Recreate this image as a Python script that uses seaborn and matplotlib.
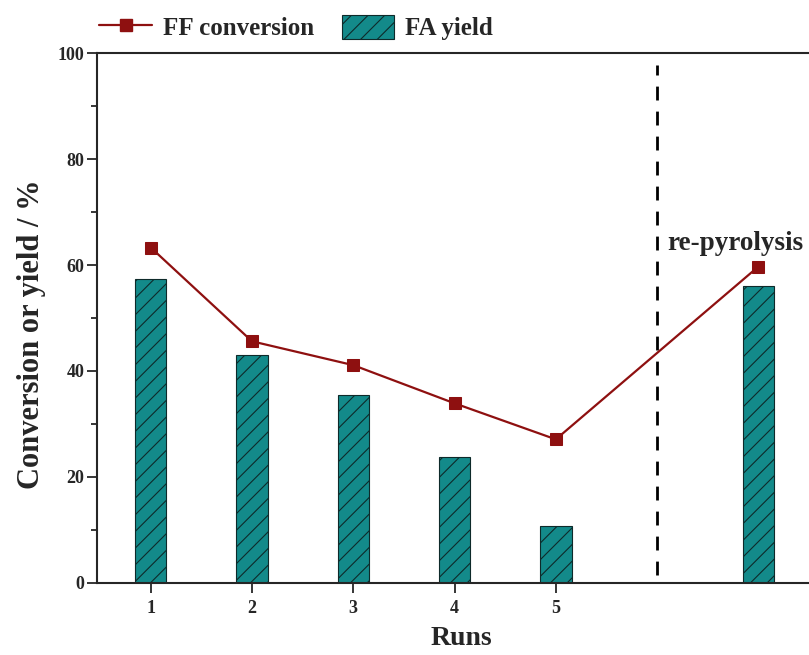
import pandas as pd
import matplotlib.pyplot as plt
import seaborn as sns
from matplotlib.lines import Line2D
from matplotlib.patches import Patch
from matplotlib.ticker import MultipleLocator

# Datos
runs = [1, 2, 3, 4, 5, 7]
run_labels = ['1', '2', '3', '4', '5']
ff_conversion = [63.3, 45.6, 41.1, 33.9, 27.1, 59.7]
fa_yield = [57.3, 43.0, 35.5, 23.8, 10.8, 56.0]

df = pd.DataFrame({'run': runs, 'ff': ff_conversion, 'fa': fa_yield})

sns.set_theme(style="ticks")
plt.rcParams['font.family'] = ['Liberation Serif', 'DejaVu Serif']
plt.rcParams['font.weight'] = 'bold'
plt.rcParams['hatch.linewidth'] = 0.8

teal = '#138a8a'
rojo = '#8e1010'

fig = plt.figure(figsize=(8.09, 6.55), dpi=100)
ax = fig.add_axes([0.12, 0.11, 0.90, 0.809])

sns.barplot(data=df, x='run', y='fa', native_scale=True, width=0.31,
            color=teal, saturation=1, edgecolor='#0e2a2a', linewidth=0.8,
            hatch='//', ax=ax, zorder=2)
sns.lineplot(data=df, x='run', y='ff', color=rojo, lw=1.6, marker='s',
             markersize=8.5, markeredgecolor=rojo, ax=ax, zorder=4)

# Línea divisoria de la re-pirólisis
ax.plot([6, 6], [1.5, 97.7], color='black', lw=2, ls=(0, (5, 4)), zorder=3)
ax.text(6.1, 64, 're-pyrolysis', fontsize=19.5, weight='bold', va='center')

ax.set_xlim(0.47, 7.66)
ax.set_ylim(0, 100)
ax.set_xticks(runs[:5])
ax.set_xticklabels(run_labels)
ax.yaxis.set_major_locator(MultipleLocator(20))
ax.yaxis.set_minor_locator(MultipleLocator(10))
ax.tick_params(axis='both', which='major', direction='out', length=7, width=1.3,
               labelsize=13)
ax.tick_params(axis='y', which='minor', direction='out', length=4, width=1.3)
ax.tick_params(axis='x', pad=5)
ax.tick_params(axis='y', pad=2)
for lbl in ax.get_xticklabels() + ax.get_yticklabels():
    lbl.set_fontweight('bold')

for lado in ['left', 'bottom', 'top']:
    ax.spines[lado].set_linewidth(1.5)
ax.spines['right'].set_visible(False)

ax.set_xlabel('Runs', fontsize=20, weight='bold', labelpad=7)
ax.set_ylabel('Conversion or yield / %', fontsize=22, weight='bold')
ax.yaxis.set_label_coords(-0.07, 0.47)

handles = [
    Line2D([0], [0], color=rojo, lw=1.6, marker='s', markersize=8.5),
    Patch(facecolor=teal, edgecolor='#0e2a2a', hatch='//', linewidth=0.8),
]
fig.legend(handles, ['FF conversion', 'FA yield'], loc='center left',
           bbox_to_anchor=(0.095, 0.958), ncol=2, frameon=False,
           prop={'size': 18, 'weight': 'bold'}, handlelength=2.1,
           handleheight=1.1, columnspacing=1.1, handletextpad=0.45)

fig.savefig('out.png', dpi=100)
